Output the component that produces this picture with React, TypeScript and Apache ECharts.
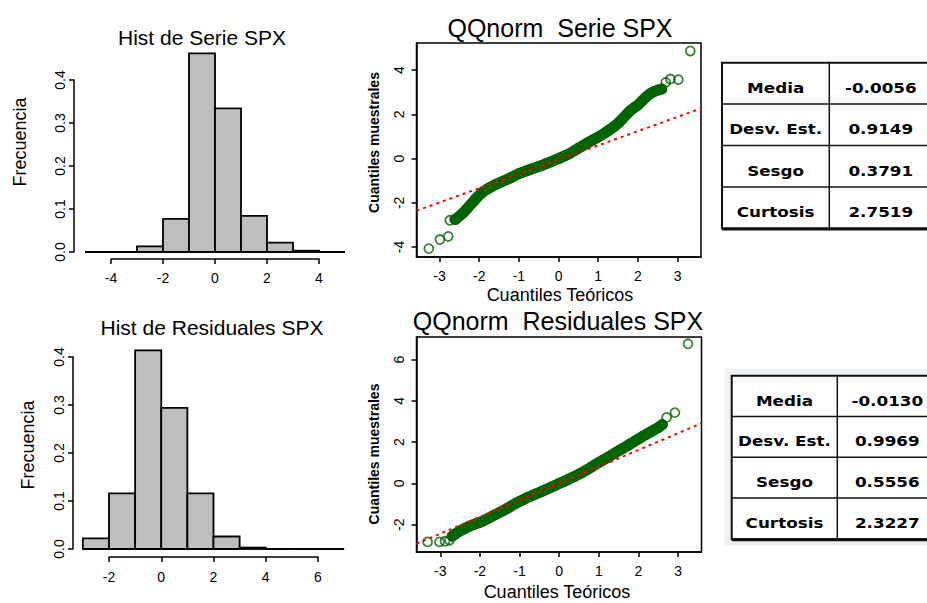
import React, { useEffect, useRef } from 'react';
import * as echarts from 'echarts';

// ---------- Histogram data (density per bin) ----------
const serieHistBreaks = [-5, -4, -3, -2, -1, 0, 1, 2, 3, 4, 5];
const serieHistDensity = [0, 0, 0.013, 0.077, 0.462, 0.334, 0.084, 0.022, 0.003, 0];
const residHistBreaks = [-3, -2, -1, 0, 1, 2, 3, 4, 5, 6, 7];
const residHistDensity = [0.022, 0.116, 0.414, 0.294, 0.116, 0.026, 0.003, 0, 0, 0];

// ---------- QQ plot of the series ----------
const serieQQTheo = [-2.6, -2.5, -2.4, -2.3, -2.2, -2.1, -2.0, -1.9, -1.8, -1.7, -1.6, -1.5, -1.4, -1.3, -1.2, -1.1, -1.0, -0.9, -0.8, -0.7, -0.6, -0.5, -0.4, -0.3, -0.2, -0.1, 0, 0.1, 0.2, 0.3, 0.4, 0.5, 0.6, 0.7, 0.8, 0.9, 1.0, 1.1, 1.2, 1.3, 1.4, 1.5, 1.6, 1.7, 1.8, 1.9, 2.0, 2.1, 2.2, 2.3, 2.4, 2.5, 2.6];
const serieQQSample = [-2.75, -2.6, -2.45, -2.25, -2.05, -1.85, -1.65, -1.5, -1.38, -1.28, -1.18, -1.1, -1.02, -0.94, -0.86, -0.77, -0.68, -0.61, -0.55, -0.48, -0.42, -0.36, -0.29, -0.22, -0.15, -0.07, 0.0, 0.08, 0.16, 0.25, 0.36, 0.47, 0.57, 0.68, 0.78, 0.88, 0.98, 1.08, 1.2, 1.32, 1.45, 1.6, 1.78, 1.97, 2.16, 2.3, 2.42, 2.6, 2.78, 2.93, 3.03, 3.1, 3.15];
const serieQQTailTheo = [-3.27, -2.99, -2.78, -2.74, -2.62, 2.7, 2.82, 3.02, 3.32];
const serieQQTailSample = [-4.07, -3.66, -3.52, -2.79, -2.75, 3.45, 3.6, 3.57, 4.87];
const serieQQLineX = [-3.58, 3.59];
const serieQQLineY = [-2.36, 2.27];

// ---------- QQ plot of the residuals ----------
const residQQTheo = [-2.7, -2.6, -2.5, -2.4, -2.3, -2.2, -2.1, -2.0, -1.9, -1.8, -1.7, -1.6, -1.5, -1.4, -1.3, -1.2, -1.1, -1.0, -0.9, -0.8, -0.7, -0.6, -0.5, -0.4, -0.3, -0.2, -0.1, 0, 0.1, 0.2, 0.3, 0.4, 0.5, 0.6, 0.7, 0.8, 0.9, 1.0, 1.1, 1.2, 1.3, 1.4, 1.5, 1.6, 1.7, 1.8, 1.9, 2.0, 2.1, 2.2, 2.3, 2.4, 2.5, 2.6];
const residQQSample = [-2.55, -2.42, -2.3, -2.2, -2.1, -2.02, -1.95, -1.88, -1.8, -1.7, -1.6, -1.5, -1.4, -1.3, -1.2, -1.08, -0.97, -0.87, -0.78, -0.68, -0.6, -0.52, -0.44, -0.35, -0.27, -0.18, -0.1, 0.0, 0.08, 0.17, 0.26, 0.35, 0.45, 0.55, 0.66, 0.78, 0.9, 1.01, 1.12, 1.23, 1.35, 1.47, 1.58, 1.69, 1.8, 1.92, 2.04, 2.15, 2.27, 2.38, 2.49, 2.6, 2.71, 2.85];
const residQQTailTheo = [-3.32, -3.02, -2.88, -2.77, 2.71, 2.92, 3.25];
const residQQTailSample = [-2.83, -2.83, -2.8, -2.75, 3.2, 3.43, 6.76];
const residQQLineX = [-3.6, 3.59];
const residQQLineY = [-2.92, 2.91];

// ---------- Axis ticks ----------
const qqXTicks = [-3, -2, -1, 0, 1, 2, 3];
const serieQQYTicks = [-4, -2, 0, 2, 4];
const residQQYTicks = [-2, 0, 2, 4, 6];

// ---------- Summary tables ----------
const statLabels = ['Media', 'Desv. Est.', 'Sesgo', 'Curtosis'];
const serieStats = ['-0.0056', '0.9149', '0.3791', '2.7519'];
const residStats = ['-0.0130', '0.9969', '0.5556', '2.3227'];

// ---------- Texts ----------
const titles = {
  serieHist: 'Hist de Serie SPX',
  residHist: 'Hist de Residuales SPX',
  serieQQ: 'QQnorm\u00a0 Serie SPX',
  residQQ: 'QQnorm\u00a0 Residuales SPX',
};
const yHistName = 'Frecuencia';
const qqXName = 'Cuantiles Teóricos';
const qqYName = 'Cuantiles muestrales';

const FONT = '"Liberation Sans", Arial, sans-serif';
const GREEN = '#006400';

function histSeries(breaks: number[], dens: number[], idx: number) {
  const data = dens.map((d, i) => [breaks[i], breaks[i + 1], d]);
  return {
    type: 'custom',
    xAxisIndex: idx,
    yAxisIndex: idx,
    clip: false,
    silent: true,
    data,
    encode: { x: [0, 1], y: 2 },
    renderItem: (_p: any, api: any) => {
      const a = api.coord([api.value(0), 0]);
      const b = api.coord([api.value(1), api.value(2)]);
      return {
        type: 'rect',
        shape: { x: a[0], y: b[1], width: b[0] - a[0], height: a[1] - b[1] },
        style: { fill: '#bebebe', stroke: '#000', lineWidth: 1.8 },
      };
    },
  };
}

function qqSeries(theo: number[], samp: number[], tt: number[], ts: number[], lx: number[], ly: number[], idx: number) {
  const band = theo.map((x, i) => [x, samp[i]]);
  const tails = tt.map((x, i) => [x, ts[i]]);
  const line = lx.map((x, i) => [x, ly[i]]);
  return [
    {
      type: 'line', xAxisIndex: idx, yAxisIndex: idx, data: band, symbol: 'none', silent: true,
      lineStyle: { color: GREEN, width: 11, cap: 'round', join: 'round' }, z: 2,
    },
    {
      type: 'scatter', xAxisIndex: idx, yAxisIndex: idx, data: band.concat(tails), symbol: 'circle', symbolSize: 9, silent: true,
      itemStyle: { color: 'rgba(0,0,0,0)', borderColor: GREEN, borderWidth: 1.8 }, z: 3,
    },
    {
      type: 'line', xAxisIndex: idx, yAxisIndex: idx, data: line, symbol: 'none', silent: true,
      lineStyle: { color: '#ff0000', width: 2, type: [3, 4] }, z: 4,
    },
  ];
}

function histXAxis(idx: number, min: number, max: number, offset: number, margin: number) {
  return {
    gridIndex: idx, type: 'value', min, max, interval: 2, position: 'bottom', offset,
    axisLine: { show: true, onZero: false, lineStyle: { color: '#000', width: 1.5 } },
    axisTick: { show: true, length: 5, lineStyle: { color: '#000', width: 1.5 } },
    axisLabel: { fontSize: 14, color: '#000', margin, fontFamily: FONT },
    splitLine: { show: false },
  };
}
function histYAxis(idx: number, offset: number) {
  return {
    gridIndex: idx, type: 'value', min: 0, max: 0.4, interval: 0.1, position: 'left', offset,
    axisLine: { show: true, onZero: false, lineStyle: { color: '#000', width: 1.5 } },
    axisTick: { show: true, length: 5, lineStyle: { color: '#000', width: 1.5 } },
    axisLabel: { fontSize: 14, color: '#000', margin: 7, rotate: 90, fontFamily: FONT, formatter: (v: number) => v.toFixed(1) },
    splitLine: { show: false },
  };
}
function qqXAxis(idx: number, min: number, max: number) {
  return {
    gridIndex: idx, type: 'value', min, max, position: 'bottom',
    axisLine: { show: true, onZero: false, lineStyle: { color: '#000', width: 1.5 } },
    axisTick: { show: true, length: 5, customValues: qqXTicks, lineStyle: { color: '#000', width: 1.5 } },
    axisLabel: { fontSize: 14, color: '#000', margin: 12, customValues: qqXTicks, fontFamily: FONT },
    splitLine: { show: false },
  };
}
function qqYAxis(idx: number, min: number, max: number, ticks: number[]) {
  return {
    gridIndex: idx, type: 'value', min, max, position: 'left',
    axisLine: { show: true, onZero: false, lineStyle: { color: '#000', width: 1.5 } },
    axisTick: { show: true, length: 5, customValues: ticks, lineStyle: { color: '#000', width: 1.5 } },
    axisLabel: { fontSize: 14, color: '#000', margin: 11, rotate: 90, customValues: ticks, fontFamily: FONT },
    splitLine: { show: false },
  };
}

function text(str: string, x: number, y: number, size: number, extra: any = {}) {
  return {
    type: 'text', x, y, silent: true, ...extra,
    style: { text: str, fontSize: size, fontFamily: FONT, fill: '#000', align: 'center', verticalAlign: 'middle', ...(extra.style || {}) },
  };
}

function table(x: number, y: number, w1: number, w2: number, rowH: number, labels: string[], values: string[], halo: boolean) {
  const els: any[] = [];
  const W = w1 + w2;
  const H = rowH * labels.length;
  if (halo) {
    els.push({ type: 'rect', silent: true, shape: { x: x - 7, y: y - 7, width: W + 14, height: H + 14 }, style: { fill: '#eef1f6' } });
  }
  els.push({ type: 'rect', silent: true, shape: { x, y, width: W, height: H }, style: { fill: '#fff', stroke: '#111', lineWidth: 2 } });
  for (let i = 1; i < labels.length; i++) {
    els.push({ type: 'line', silent: true, shape: { x1: x, y1: y + i * rowH, x2: x + W, y2: y + i * rowH }, style: { stroke: '#111', lineWidth: 1.5 } });
  }
  els.push({ type: 'line', silent: true, shape: { x1: x + w1, y1: y, x2: x + w1, y2: y + H }, style: { stroke: '#111', lineWidth: 1.5 } });
  els.push({ type: 'line', silent: true, shape: { x1: x, y1: y + H + 1, x2: x + W, y2: y + H + 1 }, style: { stroke: '#111', lineWidth: 2.5 } });
  const tf = '"DejaVu Sans", Verdana, sans-serif';
  labels.forEach((lab, i) => {
    const cy = y + (i + 0.5) * rowH + 5;
    els.push({ type: 'text', silent: true, x: x + w1 / 2, y: cy, scaleX: 1.2, style: { text: lab, fontSize: 14, fontWeight: 'bold', fontFamily: tf, fill: '#000', align: 'center', verticalAlign: 'middle' } });
    els.push({ type: 'text', silent: true, x: x + w1 + w2 / 2, y: cy, scaleX: 1.2, style: { text: values[i], fontSize: 14, fontWeight: 'bold', fontFamily: tf, fill: '#000', align: 'center', verticalAlign: 'middle' } });
  });
  return els;
}

export default function App() {
  const ref = useRef<HTMLDivElement>(null);
  useEffect(() => {
    const chart = echarts.init(ref.current!, null, { renderer: 'svg' });
    const option: any = {
      animation: false,
      backgroundColor: '#fff',
      textStyle: { fontFamily: FONT },
      grid: [
        { left: 111, top: 80, width: 208, height: 172 },
        { left: 109, top: 357, width: 209, height: 192 },
        { left: 416.5, top: 43, width: 284.5, height: 214, show: true, borderColor: '#000', borderWidth: 1.5, backgroundColor: 'transparent' },
        { left: 416.5, top: 337, width: 285, height: 215, show: true, borderColor: '#000', borderWidth: 1.5, backgroundColor: 'transparent' },
      ],
      xAxis: [
        histXAxis(0, -4, 4, 7, 12),
        histXAxis(1, -2, 6, 8, 13),
        qqXAxis(2, -3.58, 3.59),
        qqXAxis(3, -3.6, 3.59),
      ],
      yAxis: [
        histYAxis(0, 37),
        histYAxis(1, 36),
        qqYAxis(2, -4.45, 5.23, serieQQYTicks),
        qqYAxis(3, -3.32, 7.09, residQQYTicks),
      ],
      series: [
        histSeries(serieHistBreaks, serieHistDensity, 0),
        histSeries(residHistBreaks, residHistDensity, 1),
        ...qqSeries(serieQQTheo, serieQQSample, serieQQTailTheo, serieQQTailSample, serieQQLineX, serieQQLineY, 2),
        ...qqSeries(residQQTheo, residQQSample, residQQTailTheo, residQQTailSample, residQQLineX, residQQLineY, 3),
      ],
      graphic: [
        text(titles.serieHist, 202, 37, 21),
        text(titles.residHist, 212, 327.5, 21),
        text(titles.serieQQ, 560, 27.5, 25),
        text(titles.residQQ, 558, 321, 25),
        text(yHistName, 20, 142, 18, { rotation: Math.PI / 2 }),
        text(yHistName, 28, 445, 18, { rotation: Math.PI / 2 }),
        text(qqXName, 560, 295, 18),
        text(qqXName, 557, 592, 18),
        text(qqYName, 373.5, 142.5, 14, { rotation: Math.PI / 2, style: { fontWeight: 'bold' } }),
        text(qqYName, 373.5, 454, 14, { rotation: Math.PI / 2, style: { fontWeight: 'bold' } }),
        ...table(722, 62.7, 107.3, 103, 41.4, statLabels, serieStats, false),
        ...table(731.7, 375.7, 105.6, 100, 40.8, statLabels, residStats, true),
      ],
    };
    chart.setOption(option);
    return () => chart.dispose();
  }, []);
  return <div ref={ref} style={{ position: 'absolute', left: 0, top: 0, width: 927, height: 603, background: '#fff' }} />;
}
